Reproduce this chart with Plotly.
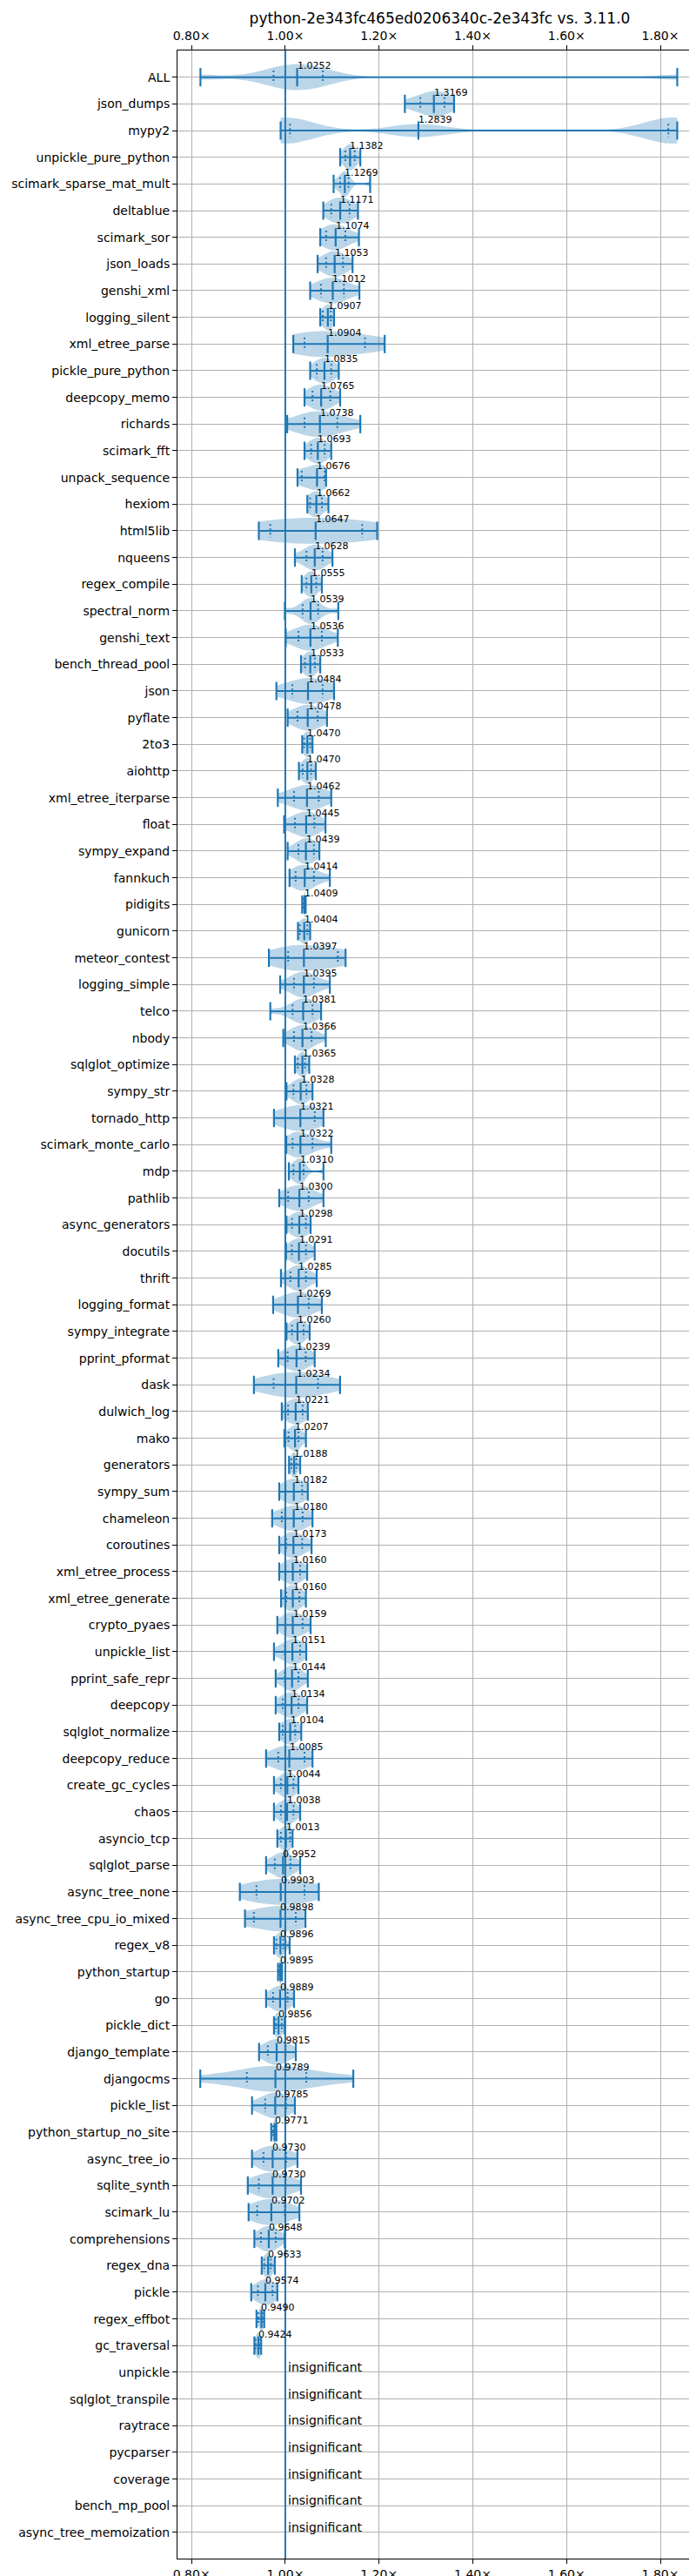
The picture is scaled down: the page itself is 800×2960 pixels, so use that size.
import plotly.graph_objects as go

title = "python-2e343fc465ed0206340c-2e343fc vs. 3.11.0"

names = [
    "ALL", "json_dumps", "mypy2", "unpickle_pure_python", "scimark_sparse_mat_mult",
    "deltablue", "scimark_sor", "json_loads", "genshi_xml", "logging_silent",
    "xml_etree_parse", "pickle_pure_python", "deepcopy_memo", "richards", "scimark_fft",
    "unpack_sequence", "hexiom", "html5lib", "nqueens", "regex_compile",
    "spectral_norm", "genshi_text", "bench_thread_pool", "json", "pyflate",
    "2to3", "aiohttp", "xml_etree_iterparse", "float", "sympy_expand",
    "fannkuch", "pidigits", "gunicorn", "meteor_contest", "logging_simple",
    "telco", "nbody", "sqlglot_optimize", "sympy_str", "tornado_http",
    "scimark_monte_carlo", "mdp", "pathlib", "async_generators", "docutils",
    "thrift", "logging_format", "sympy_integrate", "pprint_pformat", "dask",
    "dulwich_log", "mako", "generators", "sympy_sum", "chameleon",
    "coroutines", "xml_etree_process", "xml_etree_generate", "crypto_pyaes", "unpickle_list",
    "pprint_safe_repr", "deepcopy", "sqlglot_normalize", "deepcopy_reduce", "create_gc_cycles",
    "chaos", "asyncio_tcp", "sqlglot_parse", "async_tree_none", "async_tree_cpu_io_mixed",
    "regex_v8", "python_startup", "go", "pickle_dict", "django_template",
    "djangocms", "pickle_list", "python_startup_no_site", "async_tree_io", "sqlite_synth",
    "scimark_lu", "comprehensions", "regex_dna", "pickle", "regex_effbot",
    "gc_traversal", "unpickle", "sqlglot_transpile", "raytrace", "pycparser",
    "coverage", "bench_mp_pool", "async_tree_memoization",
]

# None = insignificant
medians = [
    1.0252, 1.3169, 1.2839, 1.1382, 1.1269,
    1.1171, 1.1074, 1.1053, 1.1012, 1.0907,
    1.0904, 1.0835, 1.0765, 1.0738, 1.0693,
    1.0676, 1.0662, 1.0647, 1.0628, 1.0555,
    1.0539, 1.0536, 1.0533, 1.0484, 1.0478,
    1.0470, 1.0470, 1.0462, 1.0445, 1.0439,
    1.0414, 1.0409, 1.0404, 1.0397, 1.0395,
    1.0381, 1.0366, 1.0365, 1.0328, 1.0321,
    1.0322, 1.0310, 1.0300, 1.0298, 1.0291,
    1.0285, 1.0269, 1.0260, 1.0239, 1.0234,
    1.0221, 1.0207, 1.0188, 1.0182, 1.0180,
    1.0173, 1.0160, 1.0160, 1.0159, 1.0151,
    1.0144, 1.0134, 1.0104, 1.0085, 1.0044,
    1.0038, 1.0013, 0.9952, 0.9903, 0.9898,
    0.9896, 0.9895, 0.9889, 0.9856, 0.9815,
    0.9789, 0.9785, 0.9771, 0.9730, 0.9730,
    0.9702, 0.9648, 0.9633, 0.9574, 0.9490,
    0.9424, None, None, None, None,
    None, None, None,
]

lows = [
    0.819, 1.255, 0.990, 1.117, 1.103,
    1.081, 1.0745, 1.069, 1.053, 1.0745,
    1.017, 1.053, 1.041, 1.004, 1.041,
    1.026, 1.047, 0.9435, 1.0205, 1.035,
    0.999, 1.001, 1.0335, 0.981, 1.005,
    1.036, 1.029, 0.984, 0.9975, 1.005,
    1.009, 1.036, 1.027, 0.965, 0.989,
    0.968, 0.9957, 1.0205, 1.0025, 0.9758,
    1.002, 1.0075, 0.987, 1.0025, 1.0015,
    0.9907, 0.974, 1.0025, 0.985, 0.933,
    0.9925, 0.998, 1.008, 0.987, 0.972,
    0.987, 0.987, 0.991, 0.983, 0.9758,
    0.9795, 0.9795, 0.987, 0.959, 0.9758,
    0.9758, 0.983, 0.959, 0.903, 0.914,
    0.9758, 0.9845, 0.959, 0.9758, 0.944,
    0.8186, 0.929, 0.970, 0.929, 0.920,
    0.9217, 0.934, 0.9497, 0.9273, 0.9385,
    0.934,
]

q1s = [
    0.975, 1.288, 1.010, 1.128, 1.117,
    1.098, 1.087, 1.087, 1.076, 1.080,
    1.041, 1.067, 1.058, 1.041, 1.055,
    1.035, 1.053, 0.968, 1.045, 1.045,
    1.037, 1.028, 1.042, 1.015, 1.026,
    1.040, 1.037, 1.0186, 1.0205, 1.028,
    1.022, 1.039, 1.031, 1.006, 1.0186,
    1.0155, 1.0186, 1.0267, 1.0174, 1.000,
    1.0155, 1.0174, 1.006, 1.0143, 1.014,
    1.011, 1.000, 1.0143, 1.005, 0.975,
    1.006, 1.0068, 1.013, 1.0006, 0.9925,
    1.002, 1.0006, 1.002, 1.0006, 0.999,
    0.999, 0.9944, 0.9944, 0.985, 0.9907,
    0.9907, 0.9907, 0.9776, 0.9385, 0.933,
    0.981, 0.987, 0.974, 0.980, 0.9627,
    0.918, 0.957, 0.974, 0.9534, 0.9435,
    0.940, 0.948, 0.955, 0.9416, 0.943,
    0.9366,
]

q3s = [
    1.080, 1.3395, 1.817, 1.148, 1.135,
    1.137, 1.128, 1.123, 1.125, 1.097,
    1.170, 1.098, 1.096, 1.111, 1.084,
    1.084, 1.078, 1.164, 1.0795, 1.066,
    1.070, 1.078, 1.063, 1.0795, 1.069,
    1.053, 1.055, 1.0714, 1.062, 1.061,
    1.061, 1.042, 1.047, 1.112, 1.061,
    1.058, 1.056, 1.042, 1.045, 1.0627,
    1.058, 1.039, 1.050, 1.044, 1.044,
    1.044, 1.050, 1.039, 1.0435, 1.0696,
    1.037, 1.028, 1.0236, 1.036, 1.037,
    1.036, 1.0317, 1.030, 1.037, 1.0317,
    1.028, 1.028, 1.021, 1.041, 1.0174,
    1.0174, 1.010, 1.011, 1.041, 1.0224,
    0.9957, 0.991, 1.005, 0.9925, 1.0006,
    1.0447, 1.002, 0.979, 1.002, 1.0006,
    0.999, 0.9795, 0.969, 0.9727, 0.951,
    0.946,
]

highs = [
    1.836, 1.360, 1.836, 1.160, 1.181,
    1.155, 1.157, 1.1435, 1.158, 1.104,
    1.212, 1.114, 1.117, 1.160, 1.098,
    1.087, 1.092, 1.196, 1.1006, 1.078,
    1.113, 1.112, 1.0745, 1.104, 1.089,
    1.058, 1.065, 1.098, 1.0857, 1.0727,
    1.095, 1.0435, 1.053, 1.1286, 1.095,
    1.0764, 1.0863, 1.051, 1.058, 1.0814,
    1.098, 1.0814, 1.0814, 1.054, 1.0627,
    1.067, 1.078, 1.052, 1.0627, 1.1168,
    1.048, 1.044, 1.0317, 1.048, 1.058,
    1.056, 1.0466, 1.044, 1.054, 1.0447,
    1.048, 1.0466, 1.034, 1.058, 1.028,
    1.0317, 1.0155, 1.0317, 1.0714, 1.043,
    1.0093, 0.993, 1.0186, 0.9988, 1.0224,
    1.145, 1.0205, 0.981, 1.026, 1.0335,
    1.030, 0.9988, 0.9776, 0.983, 0.955,
    0.9485,
]

# mass at both ends, little around the median
bimodal = {"mypy2"}

x_ticks = [0.8, 1.0, 1.2, 1.4, 1.6, 1.8]

BLUE = "#1f77b4"
FILL = "rgba(31,119,180,0.3)"
GRID = "#b0b0b0"
FONT = "DejaVu Sans"

fig = go.Figure()

# violin bodies (quartiles weighted more than the extremes)
for i, med in enumerate(medians):
    if med is None:
        continue
    if names[i] in bimodal:
        sample = [lows[i], q1s[i], med, q3s[i], highs[i]]
        bw = 0.06
    else:
        sample = [lows[i]] + [q1s[i]] * 2 + [med] * 3 + [q3s[i]] * 2 + [highs[i]]
        bw = (q3s[i] - q1s[i]) / 2.2
    fig.add_trace(go.Violin(
        x=sample, y0=i, orientation="h", bandwidth=bw,
        side="both", spanmode="hard", points=False, width=0.97,
        scalemode="width", fillcolor=FILL, line=dict(width=0, color=FILL),
        box_visible=False, meanline_visible=False, hoverinfo="skip",
    ))

# whiskers min -> max
wx, wy = [], []
for i, med in enumerate(medians):
    if med is None:
        continue
    wx += [lows[i], highs[i], None]
    wy += [i, i, None]
fig.add_trace(go.Scatter(x=wx, y=wy, mode="lines", line=dict(color=BLUE, width=2),
                         hoverinfo="skip"))

# dotted quantile ticks
qx, qy = [], []
for i, med in enumerate(medians):
    if med is None:
        continue
    for q in (q1s[i], q3s[i]):
        qx += [q, q, None]
        qy += [i - 0.25, i + 0.25, None]
fig.add_trace(go.Scatter(x=qx, y=qy, mode="lines",
                         line=dict(color=BLUE, width=2, dash="2px,3px"), hoverinfo="skip"))

# extrema + median ticks
tx, ty = [], []
for i, med in enumerate(medians):
    if med is None:
        continue
    tx += [lows[i], med, highs[i]]
    ty += [i, i, i]
fig.add_trace(go.Scatter(x=tx, y=ty, mode="markers", xaxis="x2",
                         marker=dict(symbol="line-ns", size=15,
                                     line=dict(color=BLUE, width=2.2)),
                         hoverinfo="skip"))

fig.add_vline(x=1.0, line_color=BLUE, line_width=2, layer="above")

for i, med in enumerate(medians):
    if med is None:
        fig.add_annotation(x=1.0, y=i, text="insignificant", showarrow=False,
                           xanchor="left", yanchor="middle", xshift=1, yshift=6,
                           font=dict(size=14, color="black", family=FONT))
    else:
        fig.add_annotation(x=med, y=i, text=f"{med:.4f}", showarrow=False,
                           xanchor="left", yanchor="middle", xshift=-2, yshift=13,
                           font=dict(size=11, color="black", family=FONT))

xrange = [0.77, 1.889]
axis_common = dict(
    range=xrange, tickvals=x_ticks, ticktext=[f"{v:.2f}×" for v in x_ticks],
    showgrid=True, gridcolor=GRID, gridwidth=1, zeroline=False,
    showline=True, linecolor="black", linewidth=1,
    ticks="outside", ticklen=5, tickcolor="black",
    tickfont=dict(size=14, color="black", family=FONT),
)

fig.update_layout(
    width=800, height=2960,
    margin=dict(l=196, r=1, t=50, b=28),
    paper_bgcolor="white", plot_bgcolor="white",
    showlegend=False, violinmode="overlay",
    font=dict(family=FONT, color="black"),
    title=dict(text=title, x=0.5, xref="paper", xanchor="center",
               y=1 - 13 / 2960, yref="container", yanchor="middle",
               font=dict(size=17, color="black", family=FONT)),
    xaxis=dict(side="bottom", mirror=True, **axis_common),
    xaxis2=dict(side="top", overlaying="x", **axis_common),
    yaxis=dict(
        type="linear", range=[len(names) - 0.02, -1.0],
        tickvals=list(range(len(names))), ticktext=names,
        showgrid=True, gridcolor=GRID, gridwidth=1, zeroline=False,
        showline=True, linecolor="black", linewidth=1, mirror=True,
        ticks="outside", ticklen=5, tickcolor="black",
        tickfont=dict(size=14, color="black", family=FONT),
    ),
)

fig.write_html("out.html")
